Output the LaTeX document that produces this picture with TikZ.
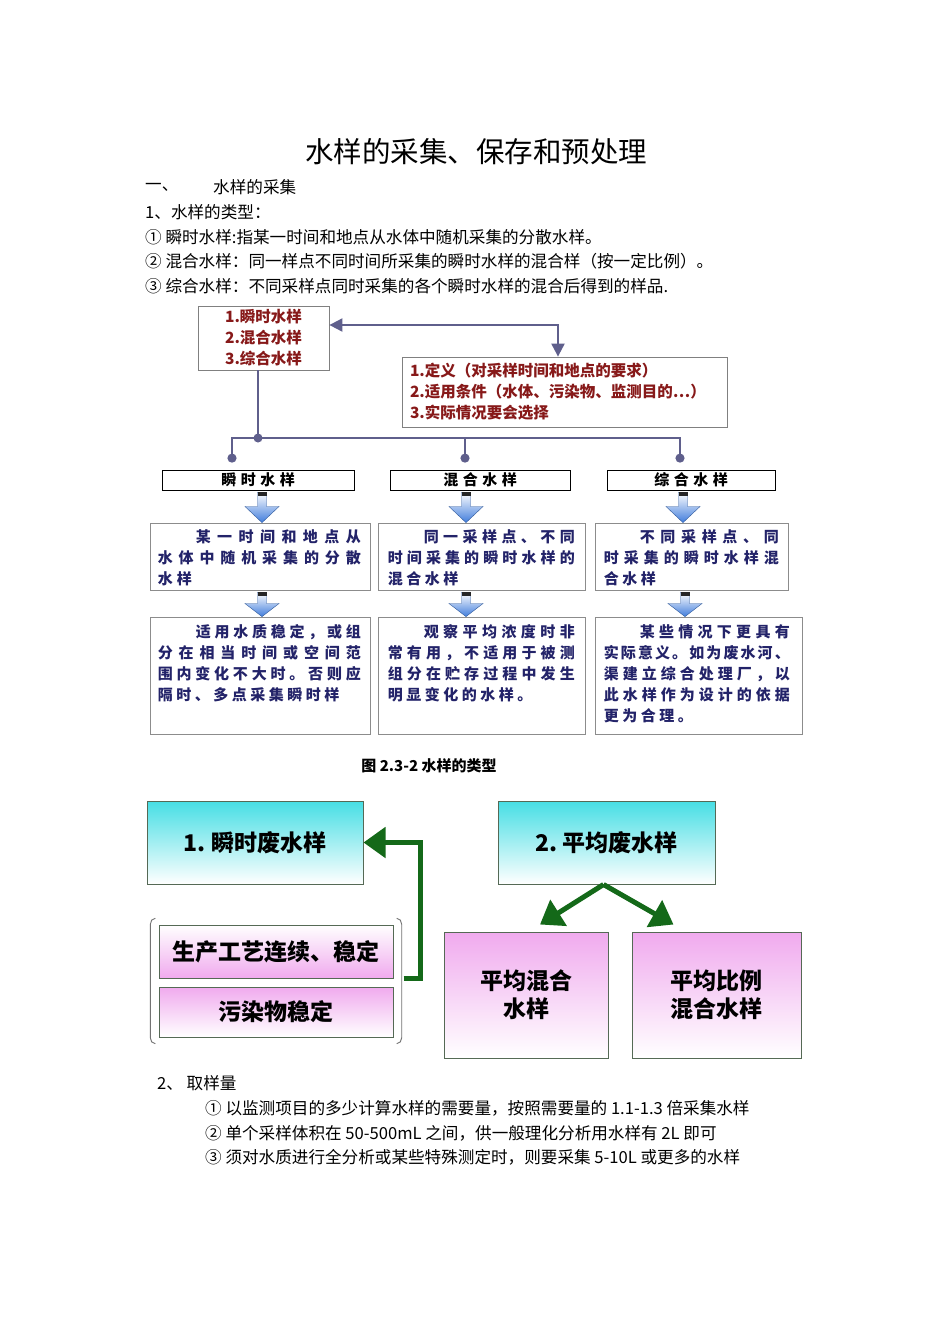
\documentclass[tikz,border=0pt]{standalone}
\usepackage{fontspec}
\setmainfont{Noto Sans CJK SC}
\usetikzlibrary{positioning,arrows.meta,fit,calc}
\definecolor{linkc}{RGB}{95,95,140}
\definecolor{redtxt}{RGB}{135,25,25}
\definecolor{navytxt}{RGB}{35,35,105}
\definecolor{arrowblue}{RGB}{65,125,220}
\definecolor{gr}{RGB}{20,105,25}
\definecolor{cy}{RGB}{70,222,228}
\definecolor{pk}{RGB}{240,170,238}
\definecolor{wline}{RGB}{85,105,85}
\ExplSyntaxOn
% justified line of single characters, optional indent
\NewDocumentCommand{\jline}{O{0pt}mm}{\hbox to #2{\hspace*{#1}\tl_map_inline:nn{#3}{##1\hfil}\unskip}}
% characters with a fixed gap
\NewDocumentCommand{\spc}{mm}{\tl_map_inline:nn{#2}{##1\hspace{#1}}\unskip}
\ExplSyntaxOff

\begin{document}
\begin{tikzpicture}[x=1pt, y=-1pt, inner sep=0pt,
  txt/.style={anchor=west, font=\fontsize{16.6}{20}\selectfont},
  link/.style={draw=linkc, line width=2pt},
  hbox/.style={draw=black!50, line width=0.8pt, font=\fontsize{15.5}{21}\selectfont\bfseries, text=redtxt},
  lbl/.style={draw=black, line width=0.8pt, minimum height=20pt, font=\fontsize{15}{16}\selectfont\bfseries},
  tbox/.style={draw=black!45, line width=0.8pt},
  ttext/.style={anchor=north west, align=left, font=\fontsize{15}{21}\selectfont\bfseries, text=navytxt},
  wbox/.style={draw=wline, line width=1pt, align=center, font=\fontsize{23}{28}\selectfont\bfseries},
  cyanbox/.style={wbox, top color=cy, bottom color=white},
  pinkup/.style={wbox, top color=pk, bottom color=white},
  pinkdn/.style={wbox, top color=white, bottom color=pk},
  brk/.style={draw=black!55, line width=0.9pt},
  garrow/.style={draw=gr, line width=5pt, -{Triangle[length=22pt,width=30pt]}},
]
  \fill[white] (0,0) rectangle (950,1344);
  \useasboundingbox (0,0) rectangle (950,1344);
  \newcommand{\bluearrow}[3]{%
    \shade[top color=white, bottom color=arrowblue, draw=arrowblue!70!black, line width=0.4pt]
      let \p1=([xshift=#3pt]#1.south), \p2=(#2.north), \n1={\y1-\y2} in
      (\x1-4.5pt,\y1-2pt) -- (\x1-4.5pt,\y1-0.5*\n1) -- (\x1-17pt,\y1-0.5*\n1) -- (\x1,\y2)
      -- (\x1+17pt,\y1-0.5*\n1) -- (\x1+4.5pt,\y1-0.5*\n1) -- (\x1+4.5pt,\y1-2pt) -- cycle;
    \fill[black!85] let \p1=([xshift=#3pt]#1.south) in (\x1-4.5pt,\y1-2pt) rectangle (\x1+4.5pt,\y1-6pt);
  }

  % heading and definitions
  \node[font=\fontsize{28.5}{34}\selectfont] (title) at (476,152) {水样的采集、保存和预处理};
  \node[txt] (sec1) at (145,187) {一、};
  \node[txt] (sec1b) at (213,187) {水样的采集};
  \node[txt] (types) at (145,212) {1、水样的类型：};
  \node[txt] (def1) at (145,237) {① 瞬时水样:指某一时间和地点从水体中随机采集的分散水样。};
  \node[txt] (def2) at (145,261) {② 混合水样：同一样点不同时间所采集的瞬时水样的混合样（按一定比例）。};
  \node[txt] (def3) at (145,286) {③ 综合水样：不同采样点同时采集的各个瞬时水样的混合后得到的样品.};

  % figure 2.3-2
  \node[hbox, align=center, minimum width=131pt, minimum height=64pt] (kinds) at (263.5,338)
    {1.瞬时水样\\2.混合水样\\3.综合水样};
  \node[hbox, align=left, text width=309pt, inner xsep=8pt, minimum height=70pt] (rules) at (564.5,392)
    {1.定义（对采样时间和地点的要求）\\2.适用条件（水体、污染物、监测目的…）\\3.实际情况要会选择};
  \draw[link, {Triangle[length=13pt,width=13pt]}-{Triangle[length=13pt,width=13pt]}]
    ([yshift=13pt]kinds.east) -| ([xshift=-6.5pt]rules.north);

  \node[lbl, minimum width=192pt] (inst) at (258,480) {\spc{4.5pt}{瞬时水样}};
  \node[lbl, minimum width=180pt] (mix) at (480,480) {\spc{4.5pt}{混合水样}};
  \node[lbl, minimum width=168pt] (comp) at (691,480) {\spc{4.5pt}{综合水样}};

  \coordinate (J) at (258,438);
  \draw[link] ([xshift=-5.5pt]kinds.south) -- (J);
  \fill[linkc] (J) circle (4.5pt);
  \draw[link, -{Circle[length=9pt]}, shorten >=7pt] (J) -| ([xshift=-26pt]inst.north);
  \draw[link, -{Circle[length=9pt]}, shorten >=7pt] (J) -| ([xshift=-15pt]mix.north);
  \draw[link, -{Circle[length=9pt]}, shorten >=7pt] (J) -| ([xshift=-11pt]comp.north);

  \node[tbox, minimum width=220pt, minimum height=67pt] (s1) at (260,556.5) {};
  \node[tbox, minimum width=207pt, minimum height=67pt] (s2) at (481.5,556.5) {};
  \node[tbox, minimum width=193pt, minimum height=67pt] (s3) at (691.5,556.5) {};
  \node[ttext] (s1t) at ([shift={(8,7)}]s1.north west)
    {\jline[38pt]{203pt}{某一时间和地点从}\\\jline{203pt}{水体中随机采集的分散}\\\spc{4pt}{水样}};
  \node[ttext] (s2t) at ([shift={(10,7)}]s2.north west)
    {\jline[36pt]{187pt}{同一采样点、不同}\\\jline{187pt}{时间采集的瞬时水样的}\\\spc{3.5pt}{混合水样}};
  \node[ttext] (s3t) at ([shift={(9,7)}]s3.north west)
    {\jline[36pt]{175pt}{不同采样点、同}\\\jline{175pt}{时采集的瞬时水样混}\\\spc{3.5pt}{合水样}};

  \node[tbox, minimum width=220pt, minimum height=117pt] (r1) at (260,675.5) {};
  \node[tbox, minimum width=207pt, minimum height=117pt] (r2) at (481.5,675.5) {};
  \node[tbox, minimum width=207pt, minimum height=117pt] (r3) at (698.5,675.5) {};
  \node[ttext] (r1t) at ([shift={(8,8)}]r1.north west)
    {\jline[38pt]{203pt}{适用水质稳定，或组}\\\jline{203pt}{分在相当时间或空间范}\\
     \jline{203pt}{围内变化不大时。否则应}\\\spc{3.5pt}{隔时、多点采集瞬时样}};
  \node[ttext] (r2t) at ([shift={(10,8)}]r2.north west)
    {\jline[36pt]{187pt}{观察平均浓度时非}\\\jline{187pt}{常有用，不适用于被测}\\
     \jline{187pt}{组分在贮存过程中发生}\\\spc{3.5pt}{明显变化的水样。}};
  \node[ttext] (r3t) at ([shift={(9,8)}]r3.north west)
    {\jline[36pt]{186pt}{某些情况下更具有}\\\jline{186pt}{实际意义。如为废水河、}\\
     \jline{186pt}{渠建立综合处理厂，以}\\\jline{186pt}{此水样作为设计的依据}\\\spc{3.5pt}{更为合理。}};

  \bluearrow{inst}{s1}{4}
  \bluearrow{mix}{s2}{-14}
  \bluearrow{comp}{s3}{-8}
  \bluearrow{s1}{r1}{2}
  \bluearrow{s2}{r2}{-15.5}
  \bluearrow{s3}{r3}{-6.5}

  \node[font=\fontsize{15}{18}\selectfont\bfseries] (cap) at (429,766) {图 2.3-2 水样的类型};

  % waste water samples
  \node[cyanbox, minimum width=216pt, minimum height=83pt] (inst2) at (255,842.5) {1.\ 瞬时废水样};
  \node[cyanbox, minimum width=217pt, minimum height=83pt] (avg) at (606.5,842.5) {2.\ 平均废水样};
  \node[pinkdn, minimum width=234pt, minimum height=53pt] (cont) at (276,951.5) {生产工艺连续、稳定};
  \node[pinkup, minimum width=234pt, minimum height=50pt] (stab) at (276,1012) {污染物稳定};
  \node[fit=(cont)(stab), inner xsep=8pt, inner ysep=6pt] (cond) {};
  \draw[brk] ([xshift=5pt]cond.north west) to[out=180,in=90] ([yshift=-6pt]cond.north west)
    -- ([yshift=6pt]cond.south west) to[out=-90,in=180] ([xshift=5pt]cond.south west);
  \draw[brk] ([xshift=-5pt]cond.north east) to[out=0,in=90] ([yshift=-6pt]cond.north east)
    -- ([yshift=6pt]cond.south east) to[out=-90,in=0] ([xshift=-5pt]cond.south east);
  \draw[garrow] ($(cond.east |- cont.south)+(2,0)$) -- ++(17,0) |- (inst2.east);

  \node[pinkup, minimum width=164pt, minimum height=126pt] (avgmix) at (526,995) {平均混合\\水样};
  \node[pinkup, minimum width=169pt, minimum height=126pt] (propmix) at (716.5,995) {平均比例\\混合水样};
  \draw[garrow] ([xshift=-3pt]avg.south) -- ([shift={(14,-7)}]avgmix.north);
  \draw[garrow] ([xshift=-3pt]avg.south) -- ([shift={(-43,-7)}]propmix.north);

  % sample volume
  \node[txt] (sec2) at (157,1083) {2、 取样量};
  \node[txt] (vol1) at (205,1108) {① 以监测项目的多少计算水样的需要量，按照需要量的 1.1-1.3 倍采集水样};
  \node[txt] (vol2) at (205,1133) {② 单个采样体积在 50-500mL 之间，供一般理化分析用水样有 2L 即可};
  \node[txt] (vol3) at (205,1157) {③ 须对水质进行全分析或某些特殊测定时，则要采集 5-10L 或更多的水样};
\end{tikzpicture}
\end{document}
